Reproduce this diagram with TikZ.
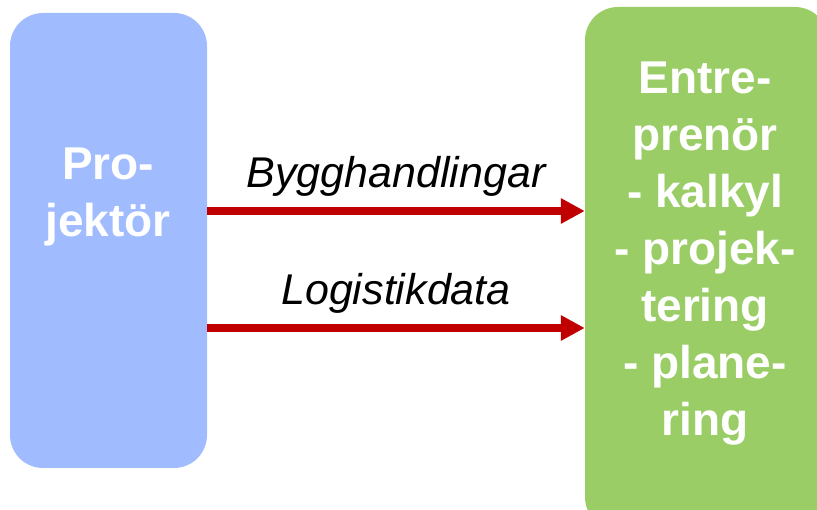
\documentclass[tikz,border=0pt]{standalone}
\usepackage{fontspec}
\setmainfont{Liberation Sans}
\usepackage{tikz}
\usetikzlibrary{arrows.meta,positioning}
\definecolor{ProjBlue}{RGB}{160,188,255}
\definecolor{EntrGreen}{RGB}{154,205,102}
\definecolor{FlowRed}{RGB}{192,0,0}
\tikzset{
  party/.style={
    shape=rectangle,
    rounded corners=33pt,
    inner sep=0pt,
    draw=none
  },
  partytext/.style={
    text=white,
    font=\fontsize{46}{57}\selectfont\bfseries,
    align=center,
    inner sep=0pt
  },
  flow/.style={
    draw=FlowRed,
    line width=8pt,
    -{Triangle[length=24pt,width=24pt]}
  },
  flowlabel/.style={
    font=\fontsize{43}{50}\selectfont\itshape,
    inner sep=0pt,
    above=11pt
  }
}

\begin{document}
\begin{tikzpicture}[x=1pt,y=-1pt]
    \useasboundingbox (0,0) rectangle (817,510);
    \clip (0,0) rectangle (817,510);
    \node[party, fill=ProjBlue, minimum width=197pt, minimum height=455pt] (proj) at (108.5,240.5) {};
    \node[party, fill=EntrGreen, minimum width=243pt, minimum height=523pt] (entr) at (706.5,268.5) {};
    \node[partytext] (projtext) at (108,197) {Pro-\\jektör};
    \node[partytext] (entrtext) at (705,254) {Entre-\\prenör\\- kalkyl\\- projek-\\tering\\- plane-\\ring};
    \coordinate (upper) at (0,211);
    \coordinate (lower) at (0,328);
    \draw[flow] (proj.east |- upper) -- node[flowlabel] (bygg) {Bygghandlingar} (entr.west |- upper);
    \draw[flow] (proj.east |- lower) -- node[flowlabel] (logi) {Logistikdata} (entr.west |- lower);
\end{tikzpicture}
\end{document}
